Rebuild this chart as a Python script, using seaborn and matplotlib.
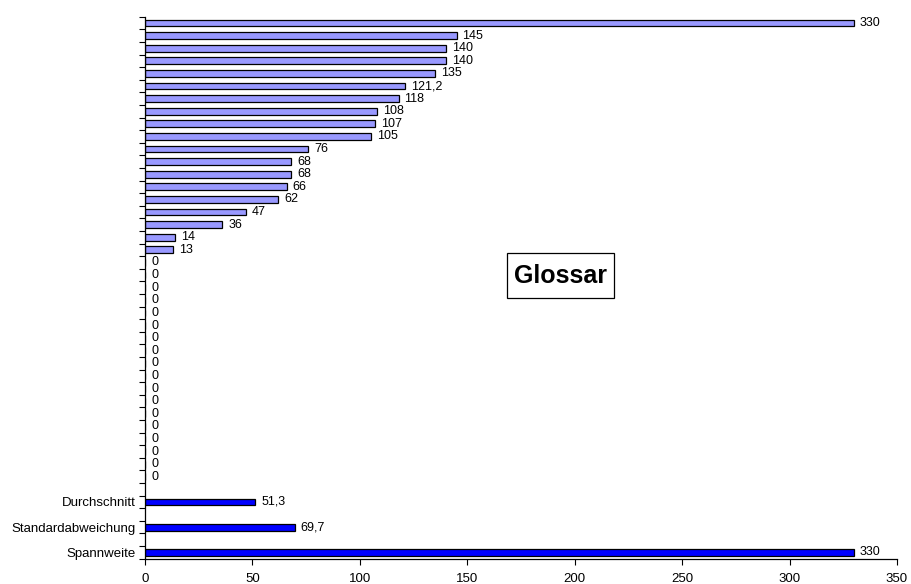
import matplotlib
matplotlib.use("Agg")
import matplotlib.pyplot as plt
import matplotlib.ticker as mticker
from matplotlib.patches import Rectangle
import seaborn as sns
import pandas as pd
import numpy as np

# Individual values (top to bottom)
values = [330, 145, 140, 140, 135, 121.2, 118, 108, 107, 105, 76, 68, 68, 66,
          62, 47, 36, 14, 13] + [0] * 18
value_labels = ["330", "145", "140", "140", "135", "121,2", "118", "108", "107",
                "105", "76", "68", "68", "66", "62", "47", "36", "14", "13"] + ["0"] * 18

# Summary statistics
stat_names = ["Durchschnitt", "Standardabweichung", "Spannweite"]
stat_values = [51.3, 69.7, 330]
stat_labels = ["51,3", "69,7", "330"]

x_ticks = [0, 50, 100, 150, 200, 250, 300, 350]

sns.set_theme(style="white")
plt.rcParams["font.family"] = ["Liberation Sans", "DejaVu Sans"]
plt.rcParams["text.color"] = "black"
plt.rcParams["xtick.color"] = "black"
plt.rcParams["ytick.color"] = "black"

# Row layout: individual rows, then a blank row before each statistic
rows = []
for i, (v, lab) in enumerate(zip(values, value_labels)):
    rows.append(dict(key=f"v{i}", name="", value=v, label=lab, kind="wert"))
order = [r["key"] for r in rows]
tick_names = ["" for _ in rows]
for j, (n, v, lab) in enumerate(zip(stat_names, stat_values, stat_labels)):
    order.append(f"gap{j}")
    tick_names.append("")
    rows.append(dict(key=f"s{j}", name=n, value=v, label=lab, kind="stat"))
    order.append(f"s{j}")
    tick_names.append(n)

df = pd.DataFrame(rows)

fig = plt.figure(figsize=(9.12, 5.84), dpi=100)
ax = fig.add_axes([145 / 912, 1 - 558.7 / 584, 752 / 912, (558.7 - 16.7) / 584])

sns.barplot(data=df, x="value", y="key", hue="kind", order=order,
            hue_order=["wert", "stat"],
            palette={"wert": "#9999FF", "stat": "#0000FF"},
            saturation=1, orient="h", width=0.54, dodge=False,
            edgecolor="black", linewidth=0.9, legend=False, ax=ax)

ax.set_xlim(0, 350)
ax.set_ylim(len(order) - 0.5, -0.5)
ax.set_xlabel("")
ax.set_ylabel("")

# Value labels to the right of each bar
pos = {k: i for i, k in enumerate(order)}
for _, r in df.iterrows():
    ax.text(r["value"] + 2.8, pos[r["key"]], r["label"], va="center", ha="left",
            fontsize=9, color="black")

# Category labels on major ticks, tick marks at row boundaries
ax.set_yticks(range(len(order)))
ax.set_yticklabels(tick_names, fontsize=9.5)
ax.yaxis.set_minor_locator(mticker.FixedLocator(np.arange(-0.5, len(order), 1)))
ax.tick_params(axis="y", which="major", length=0, pad=7)
ax.tick_params(axis="y", which="minor", length=4, width=0.8, color="black",
               direction="out", left=True)

ax.set_xticks(x_ticks)
ax.set_xticklabels([str(t) for t in x_ticks], fontsize=9.5)
ax.tick_params(axis="x", which="major", length=4, width=0.8, color="black",
               direction="out", bottom=True, pad=6)

for side in ["top", "right"]:
    ax.spines[side].set_visible(False)
for side in ["left", "bottom"]:
    ax.spines[side].set_color("black")
    ax.spines[side].set_linewidth(0.9)

# Framed caption
fig.patches.append(Rectangle((507 / 912, 1 - 298 / 584), 107 / 912, 45 / 584,
                             transform=fig.transFigure, facecolor="white",
                             edgecolor="black", linewidth=0.9, zorder=5))
fig.text(560.5 / 912, 1 - 276 / 584, "Glossar", fontsize=18, fontweight="bold",
         ha="center", va="center", color="black", zorder=6)

fig.savefig("out.png", dpi=100)
